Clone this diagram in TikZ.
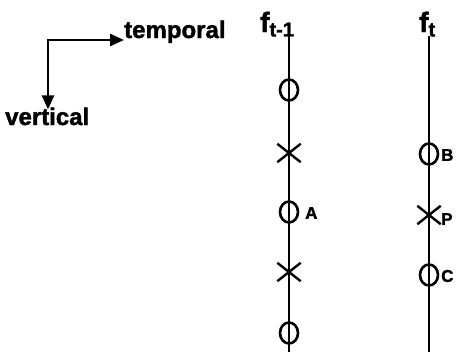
\documentclass[tikz,border=0pt]{standalone}
\usepackage{fontspec}
\setmainfont{Liberation Sans}
\newfontfamily\heavy[FakeBold=1.6]{Liberation Sans Bold}
\usetikzlibrary{shapes.geometric,shapes.misc,arrows.meta}
\begin{document}
\begin{tikzpicture}[x=1pt,y=-1pt,
  axis/.style={line width=2.4pt},
  arr/.style={line width=2.4pt,-{Triangle[length=14pt,width=12pt]}},
  ring/.style={draw,line width=2.6pt,ellipse,minimum width=18pt,minimum height=21pt,inner sep=0pt},
  xmark/.style={draw,line width=2.4pt,cross out,minimum width=21pt,minimum height=16pt,inner sep=0pt},
  lbl/.style={font=\fontsize{17}{17}\heavy,inner sep=0pt},
  big/.style={font=\fontsize{24}{24}\heavy,inner sep=0pt}]
\useasboundingbox (0,0) rectangle (459,356);
% direction key
\coordinate (corner) at (48,40);
\node[big,anchor=base west] (temporal) at (124,38) {temporal};
\node[big,anchor=base west] (vertical) at (5,125) {vertical};
\draw[arr] (46.8,40) -- (corner -| temporal.west);
\draw[arr] (corner) -- ([yshift=-2pt]corner |- vertical.north);
% frame labels
\node[big,anchor=base west,font=\fontsize{28}{28}\heavy] (f1) at (260,32) {f\raisebox{-0.3ex}{\fontsize{20}{20}\selectfont t-1}};
\node[big,anchor=base west,font=\fontsize{28}{28}\heavy] (f2) at (419,32) {f\raisebox{-0.3ex}{\fontsize{20}{20}\selectfont t}};
% lines
\coordinate (l1top) at (289,36);
\coordinate (l1bot) at (289,352);
\coordinate (l2top) at (429,36);
\coordinate (l2bot) at (429,352);
\draw[axis] (l1top) -- (l1bot);
\draw[axis] (l2top) -- (l2bot);
% markers on f_{t-1}
\node[ring] (o1) at (289,90) {};
\node[xmark] (x1) at (289,153) {};
\node[ring] (oA) at (289,212) {};
\node[xmark] (x2) at (289,272) {};
\node[ring] (o5) at (289,333) {};
\node[lbl,anchor=west] (A) at (305,213) {A};
% markers on f_t
\node[ring] (oB) at (429,154) {};
\node[xmark] (xP) at (429,215) {};
\node[ring] (oC) at (429,275) {};
\node[lbl,anchor=west] (B) at (441,155) {B};
\node[lbl,anchor=west] (P) at (441,219) {P};
\node[lbl,anchor=west] (C) at (441,276) {C};
\end{tikzpicture}
\end{document}
